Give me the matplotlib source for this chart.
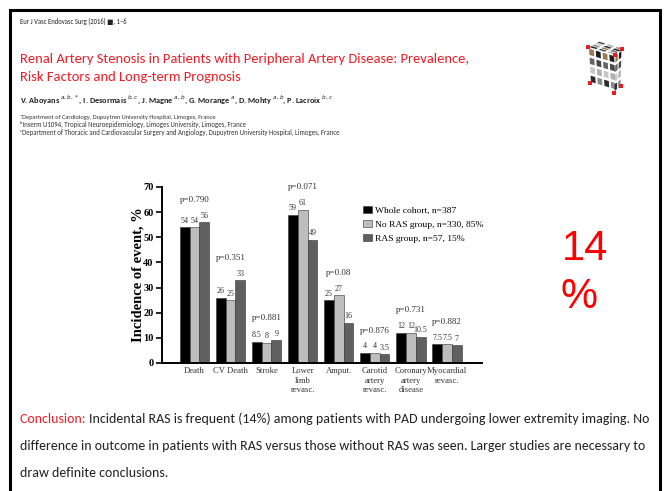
import numpy as np
import matplotlib.pyplot as plt
from matplotlib.patches import Polygon, Rectangle

categories = ["Death", "CV Death", "Stroke", "Lower\nlimb\nrevasc.", "Amput.",
              "Carotid\nartery\nrevasc.", "Coronary\nartery\ndisease", "Myocardial\nrevasc."]
whole = [54, 26, 8.5, 59, 25, 4, 12, 7.5]
no_ras = [54, 25, 8, 61, 27, 4, 12, 7.5]
ras = [56, 33, 9, 49, 16, 3.5, 10.5, 7]
pvals = ["p=0.790", "p=0.351", "p=0.881", "p=0.071", "p=0.08", "p=0.876", "p=0.731", "p=0.882"]
series_names = ["Whole cohort, n=387", "No RAS group, n=330, 85%", "RAS group, n=57, 15%"]

W, H = 669, 491
fig = plt.figure(figsize=(W / 100, H / 100), dpi=100)
renderer = fig.canvas.get_renderer()


def px(x, y):
    return x / W, 1 - y / H


SANS = ["Carlito", "DejaVu Sans"]
SERIF = ["Liberation Serif", "DejaVu Serif"]


def fit_text(x, y, s, width, size=10, **kw):
    # put text at pixel (x, y) and scale its font so it spans `width` pixels
    t = fig.text(*px(x, y), s, fontsize=size, va="center", **kw)
    w = t.get_window_extent(renderer).width
    t.set_fontsize(size * width / w)
    return t


# frame of the slide
fig.add_artist(Rectangle(px(10, 520), 650 / W, 510 / H, transform=fig.transFigure,
                         fill=False, edgecolor="black", lw=2.2, clip_on=False))

# header text
fit_text(20, 21, "Eur J Vasc Endovasc Surg (2016) \u25a0, 1\u20136", 108, family=SANS, color="#222222")
fit_text(20, 59, "Renal Artery Stenosis in Patients with Peripheral Artery Disease: Prevalence,",
         450, family=SANS, color="#e8202a")
fit_text(20, 77, "Risk Factors and Long-term Prognosis", 222, family=SANS, color="#e8202a")
fit_text(20, 100, "V. Aboyans $^{a,b,*}$, I. Desormais $^{b,c}$, J. Magne $^{a,b}$, "
         "G. Morange $^{a}$, D. Mohty $^{a,b}$, P. Lacroix $^{b,c}$",
         313, family=SANS, color="#222222", weight="bold")
affils = ["\u1d43Department of Cardiology, Dupuytren University Hospital, Limoges, France",
          "\u1d47Inserm U1094, Tropical Neuroepidemiology, Limoges University, Limoges, France",
          "\u1d9cDepartment of Thoracic and Cardiovascular Surgery and Angiology, Dupuytren University Hospital, Limoges, France"]
affil_w = [197, 225, 319]
for i, a in enumerate(affils):
    fit_text(20, 117 + 7.5 * i, a, affil_w[i], family=SANS, color="#333333")

# cube logo (decoration)
tile_cols = ["#1e1e1e", "#8a8a8a", "#c8c8c8", "#4a4a4a", "#9a7a55", "#2c2c2c", "#b0b0b0", "#666666"]
L, Bk, R, F = np.array([588, 47]), np.array([598, 41]), np.array([622, 49]), np.array([615, 55])
Lb, Fb, Rb = np.array([590, 83]), np.array([614, 93]), np.array([621, 86])
faces = [(L, Bk - L, F - L, 4, 3), (L, F - L, Lb - L, 4, 4), (F, R - F, Fb - F, 2, 4)]
k = 0
for o, a, b, na, nb in faces:
    for i in range(na):
        for j in range(nb):
            corners = [(i + 0.15, j + 0.15), (i + 0.85, j + 0.15), (i + 0.85, j + 0.85), (i + 0.15, j + 0.85)]
            pts = [px(*(o + a * ci / na + b * cj / nb)) for ci, cj in corners]
            fig.add_artist(Polygon(pts, closed=True, transform=fig.transFigure,
                                   facecolor=tile_cols[k % len(tile_cols)], edgecolor="none"))
            k += 3
for c in [L, R, F, Fb, Lb, Rb]:
    fig.add_artist(Rectangle(px(c[0] - 1.6, c[1] + 1.6), 3.2 / W, 3.2 / H, transform=fig.transFigure,
                             facecolor="#e02020", edgecolor="none"))

# bar chart
ax = fig.add_axes([162 / W, 1 - 363 / H, (482 - 162) / W, (363 - 187) / H])
x = np.arange(len(categories))
bw = 0.27
colors = ["black", "#bdbdbd", "#5f5f5f"]
for s, (vals, col) in enumerate(zip([whole, no_ras, ras], colors)):
    xs = x + (s - 1) * bw
    ax.bar(xs, vals, bw, color=col, edgecolor="#333333", lw=0.4, label=series_names[s])
    for xi, val in zip(xs, vals):
        ax.text(xi, val + 1.0, f"{val:g}", ha="center", va="bottom", fontsize=5.8,
                family=SERIF, color="#333333")
for xi, p, a, b, c in zip(x, pvals, whole, no_ras, ras):
    ax.text(xi, max(a, b, c) + 7.3, p, ha="center", va="bottom", fontsize=6.5,
            family=SERIF, color="#333333")

ax.set_xlim(-0.9, len(categories) - 1 + 0.97)
ax.set_ylim(0, 70)
ax.set_yticks(range(0, 71, 10))
ax.set_xticks(x)
ax.set_xticklabels(categories, fontsize=6.2, family=SERIF, color="#333333", linespacing=1.25)
ax.tick_params(axis="x", length=0, pad=3)
ax.tick_params(axis="y", length=4, width=1.2, direction="out", pad=2)
for lab in ax.get_yticklabels():
    lab.set_family(SERIF)
    lab.set_weight("bold")
    lab.set_fontsize(7.5)
ax.set_ylabel("Incidence of event, %", family=SERIF, weight="bold", fontsize=10.5, labelpad=-1)
for sp in ["top", "right"]:
    ax.spines[sp].set_visible(False)
for sp in ["left", "bottom"]:
    ax.spines[sp].set_linewidth(1.4)
ax.patch.set_alpha(0)
leg = ax.legend(loc="upper left", bbox_to_anchor=(0.6, 0.94), frameon=False,
                prop={"family": SERIF, "size": 6.8}, handlelength=1.0, handleheight=0.8,
                handletextpad=0.3, labelspacing=0.55)

# 14 %
fig.text(*px(585, 249), "14", fontsize=30, family=["Liberation Sans", "DejaVu Sans"],
         color="#ff0000", ha="center", va="center")
fig.text(*px(579, 297), "%", fontsize=30, family=["Liberation Sans", "DejaVu Sans"],
         color="#ff0000", ha="center", va="center")

# conclusion
line1 = "Incidental RAS is frequent (14%) among patients with PAD undergoing lower extremity imaging. No"
full = fit_text(20, 419, "Conclusion: " + line1, 628, family=SANS, color="#222222")
fsz = full.get_fontsize()
full.remove()
red = fig.text(*px(20, 419), "Conclusion: ", fontsize=fsz, family=SANS, color="#e8202a", va="center")
rw = red.get_window_extent(renderer).width
fig.text(*px(20 + rw, 419), line1, fontsize=fsz, family=SANS, color="#222222", va="center")
fig.text(*px(20, 446), "difference in outcome in patients with RAS versus those without RAS was seen. Larger studies are necessary to",
         fontsize=fsz, family=SANS, color="#222222", va="center")
fig.text(*px(20, 473), "draw definite conclusions.", fontsize=fsz, family=SANS, color="#222222", va="center")

fig.savefig("out.png", dpi=100)
